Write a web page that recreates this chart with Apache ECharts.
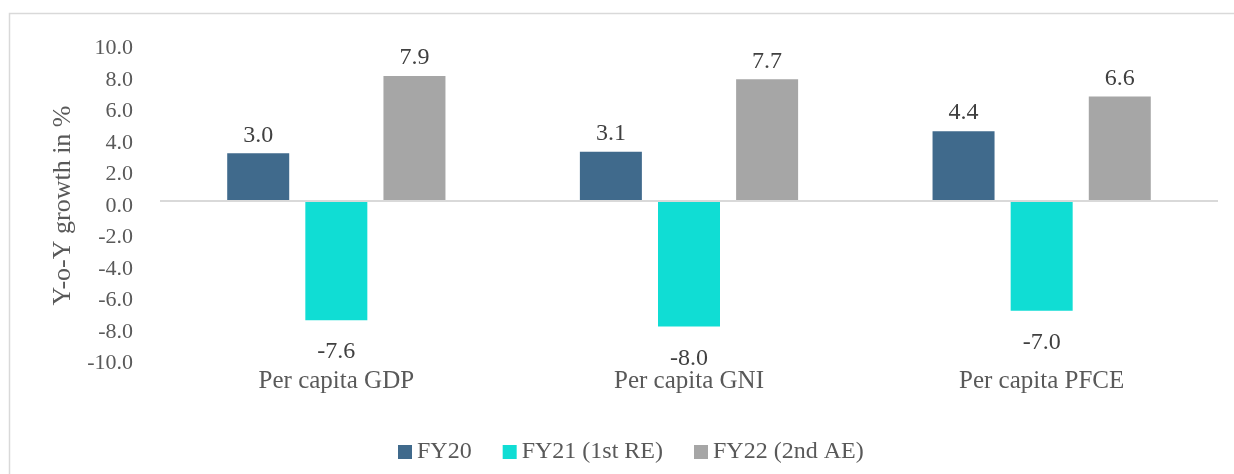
<!DOCTYPE html>
<html>
<head>
<meta charset="utf-8">
<script src="https://cdn.jsdelivr.net/npm/echarts@6/dist/echarts.min.js"></script>
<style>
  html, body { margin: 0; padding: 0; background: #fff; }
  #chart { width: 1234px; height: 474px; }
</style>
</head>
<body>
<div id="chart"></div>
<script>
var categories = ['Per capita GDP', 'Per capita GNI', 'Per capita PFCE'];
var seriesNames = ['FY20', 'FY21 (1st RE)', 'FY22 (2nd AE)'];
var fy20 = [3.0, 3.1, 4.4];
var fy21 = [-7.6, -8.0, -7.0];
var fy22 = [7.9, 7.7, 6.6];
var colors = ['#406a8c', '#10ddd4', '#a6a6a6'];

var font = '"Liberation Serif", "Times New Roman", serif';
var textColor = '#595959';

function barSeries(name, data, color, negative) {
    return {
        name: name,
        type: 'bar',
        data: data,
        barWidth: 62,
        barGap: '26%',
        itemStyle: { color: color },
        label: {
            show: true,
            position: negative ? 'bottom' : 'top',
            distance: negative ? 20 : 6,
            color: '#404040',
            fontFamily: font,
            fontSize: 24,
            formatter: function (p) { return p.value.toFixed(1); }
        }
    };
}

var series = [
    barSeries(seriesNames[0], fy20, colors[0], false),
    barSeries(seriesNames[1], fy21, colors[1], true),
    barSeries(seriesNames[2], fy22, colors[2], false)
];
// zero line across the plot
series[0].markLine = {
    silent: true,
    symbol: 'none',
    label: { show: false },
    lineStyle: { color: '#d9d9d9', width: 2, type: 'solid' },
    data: [{ yAxis: 0 }]
};

var option = {
    animation: false,
    backgroundColor: '#fff',
    graphic: [{
        type: 'rect',
        shape: { x: 9.5, y: 13.5, width: 1300, height: 500 },
        style: { fill: 'none', stroke: '#d9d9d9', lineWidth: 1.5 },
        silent: true
    }],
    grid: { left: 160, right: 16, top: 43, bottom: 116 },
    legend: {
        data: seriesNames,
        bottom: 5,
        left: 393,
        itemWidth: 14,
        itemHeight: 14,
        itemGap: 31,
        icon: 'rect',
        textStyle: { color: textColor, fontFamily: font, fontSize: 24 }
    },
    xAxis: {
        type: 'category',
        data: categories,
        axisLine: { show: false, onZero: false },
        axisTick: { show: false },
        axisLabel: { color: textColor, fontFamily: font, fontSize: 25, margin: 11 }
    },
    yAxis: {
        type: 'value',
        min: -10,
        max: 10,
        interval: 2,
        name: 'Y-o-Y growth in %',
        nameLocation: 'middle',
        nameGap: 76,
        nameRotate: 90,
        nameTextStyle: { color: textColor, fontFamily: font, fontSize: 26, padding: [0, 10, 0, 0] },
        axisLine: { show: false },
        axisTick: { show: false },
        splitLine: { show: false },
        axisLabel: {
            color: textColor,
            fontFamily: font,
            fontSize: 22,
            margin: 27,
            verticalAlign: 'top',
            lineHeight: 11,
            formatter: function (v) { return v.toFixed(1); }
        }
    },
    series: series
};

var chart = echarts.init(document.getElementById('chart'));
chart.setOption(option);
</script>
</body>
</html>
